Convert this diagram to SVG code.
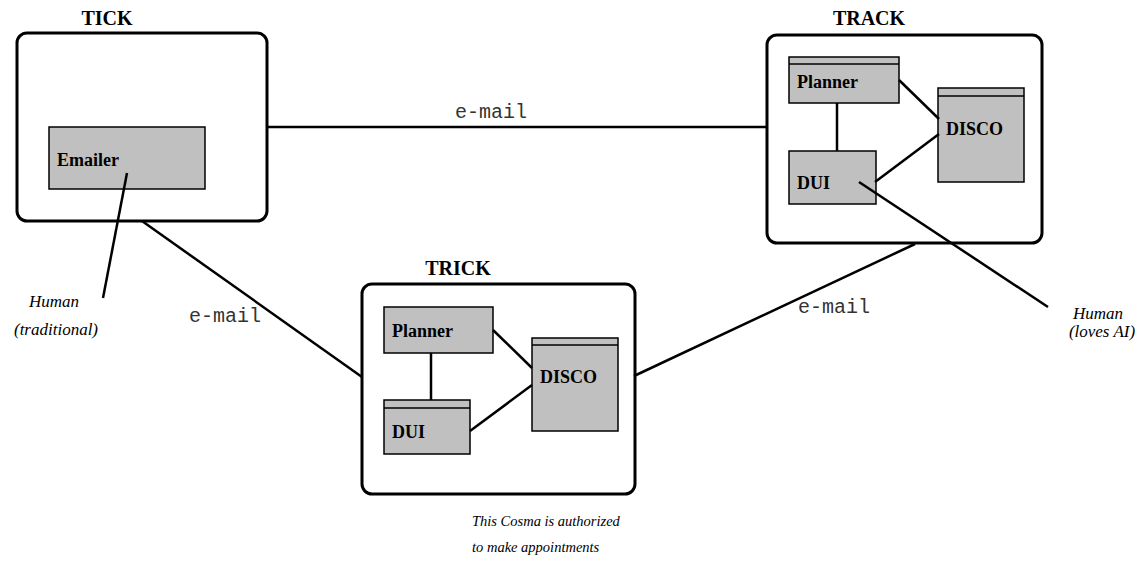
<svg xmlns="http://www.w3.org/2000/svg" width="1137" height="566" viewBox="0 0 1137 566">
<style>
.host{fill:#fff;stroke:#000;stroke-width:3}
.box{fill:#c0c0c0;stroke:#000;stroke-width:1.5}
.bar{fill:none;stroke:#000;stroke-width:1.5}
.ln{stroke:#000;stroke-width:2.5;fill:none}
.title{font-family:"Liberation Serif",serif;font-weight:bold;font-size:20px;fill:#000}
.lbl{font-family:"Liberation Serif",serif;font-weight:bold;font-size:18px;fill:#000}
.hum{font-family:"Liberation Serif",serif;font-style:italic;font-size:17px;fill:#000}
.note{font-family:"Liberation Serif",serif;font-style:italic;font-size:14.5px;fill:#000}
.mail{font-family:"Liberation Mono",monospace;font-size:20px;fill:#333}
</style>
<rect width="1137" height="566" fill="#fff"/>
<g id="tick">
<rect class="host" x="17" y="33" width="250" height="188" rx="10"/>
<text class="title" x="107" y="25" text-anchor="middle">TICK</text>
<g id="tick-emailer">
<rect class="box" x="49" y="127" width="156" height="62"/>
<text class="lbl" x="57" y="166">Emailer</text>
</g>
</g>
<g id="track">
<rect class="host" x="767" y="35" width="275" height="208" rx="10"/>
<text class="title" x="869" y="25" text-anchor="middle">TRACK</text>
<g id="track-planner">
<rect class="box" x="789" y="57" width="110" height="46"/>
<line class="bar" x1="789" y1="64" x2="899" y2="64"/>
<text class="lbl" x="797" y="88">Planner</text>
</g>
<g id="track-disco">
<rect class="box" x="938" y="88" width="86" height="94"/>
<line class="bar" x1="938" y1="96" x2="1024" y2="96"/>
<text class="lbl" x="946" y="135">DISCO</text>
</g>
<g id="track-dui">
<rect class="box" x="789" y="151" width="87" height="53"/>
<text class="lbl" x="797" y="189">DUI</text>
</g>
</g>
<g id="trick">
<rect class="host" x="362" y="284" width="273" height="210" rx="10"/>
<text class="title" x="458" y="275" text-anchor="middle">TRICK</text>
<g id="trick-planner">
<rect class="box" x="384" y="307" width="109" height="46"/>
<text class="lbl" x="392" y="337">Planner</text>
</g>
<g id="trick-disco">
<rect class="box" x="532" y="338" width="86" height="93"/>
<line class="bar" x1="532" y1="345" x2="618" y2="345"/>
<text class="lbl" x="540" y="383">DISCO</text>
</g>
<g id="trick-dui">
<rect class="box" x="384" y="400" width="86" height="54"/>
<line class="bar" x1="384" y1="408" x2="470" y2="408"/>
<text class="lbl" x="392" y="438">DUI</text>
</g>
</g>
<g id="human-traditional">
<text class="hum" x="54" y="307" text-anchor="middle">Human</text>
<text class="hum" x="56" y="335" text-anchor="middle">(traditional)</text>
</g>
<g id="human-loves-ai">
<text class="hum" x="1098" y="319" text-anchor="middle">Human</text>
<text class="hum" x="1102" y="337" text-anchor="middle">(loves AI)</text>
</g>
<g id="note">
<text class="note" x="472" y="526">This Cosma is authorized</text>
<text class="note" x="472" y="552">to make appointments</text>
</g>
<g id="connectors">
<line class="ln" x1="267" y1="127" x2="768" y2="127"/>
<line class="ln" x1="142" y1="221" x2="362" y2="377"/>
<line class="ln" x1="915" y1="244" x2="634" y2="376"/>
<line class="ln" x1="127" y1="173" x2="103" y2="298"/>
<line class="ln" x1="859" y1="182" x2="1048" y2="307"/>
<line class="ln" x1="837" y1="103" x2="837" y2="151"/>
<line class="ln" x1="899" y1="80" x2="939" y2="119"/>
<line class="ln" x1="875" y1="182" x2="939" y2="134"/>
<line class="ln" x1="431" y1="353" x2="431" y2="400"/>
<line class="ln" x1="493" y1="330" x2="532" y2="368"/>
<line class="ln" x1="470" y1="431" x2="532" y2="385"/>
<text class="mail" x="455" y="118">e-mail</text>
<text class="mail" x="189" y="322">e-mail</text>
<text class="mail" x="798" y="313">e-mail</text>
</g>
</svg>
